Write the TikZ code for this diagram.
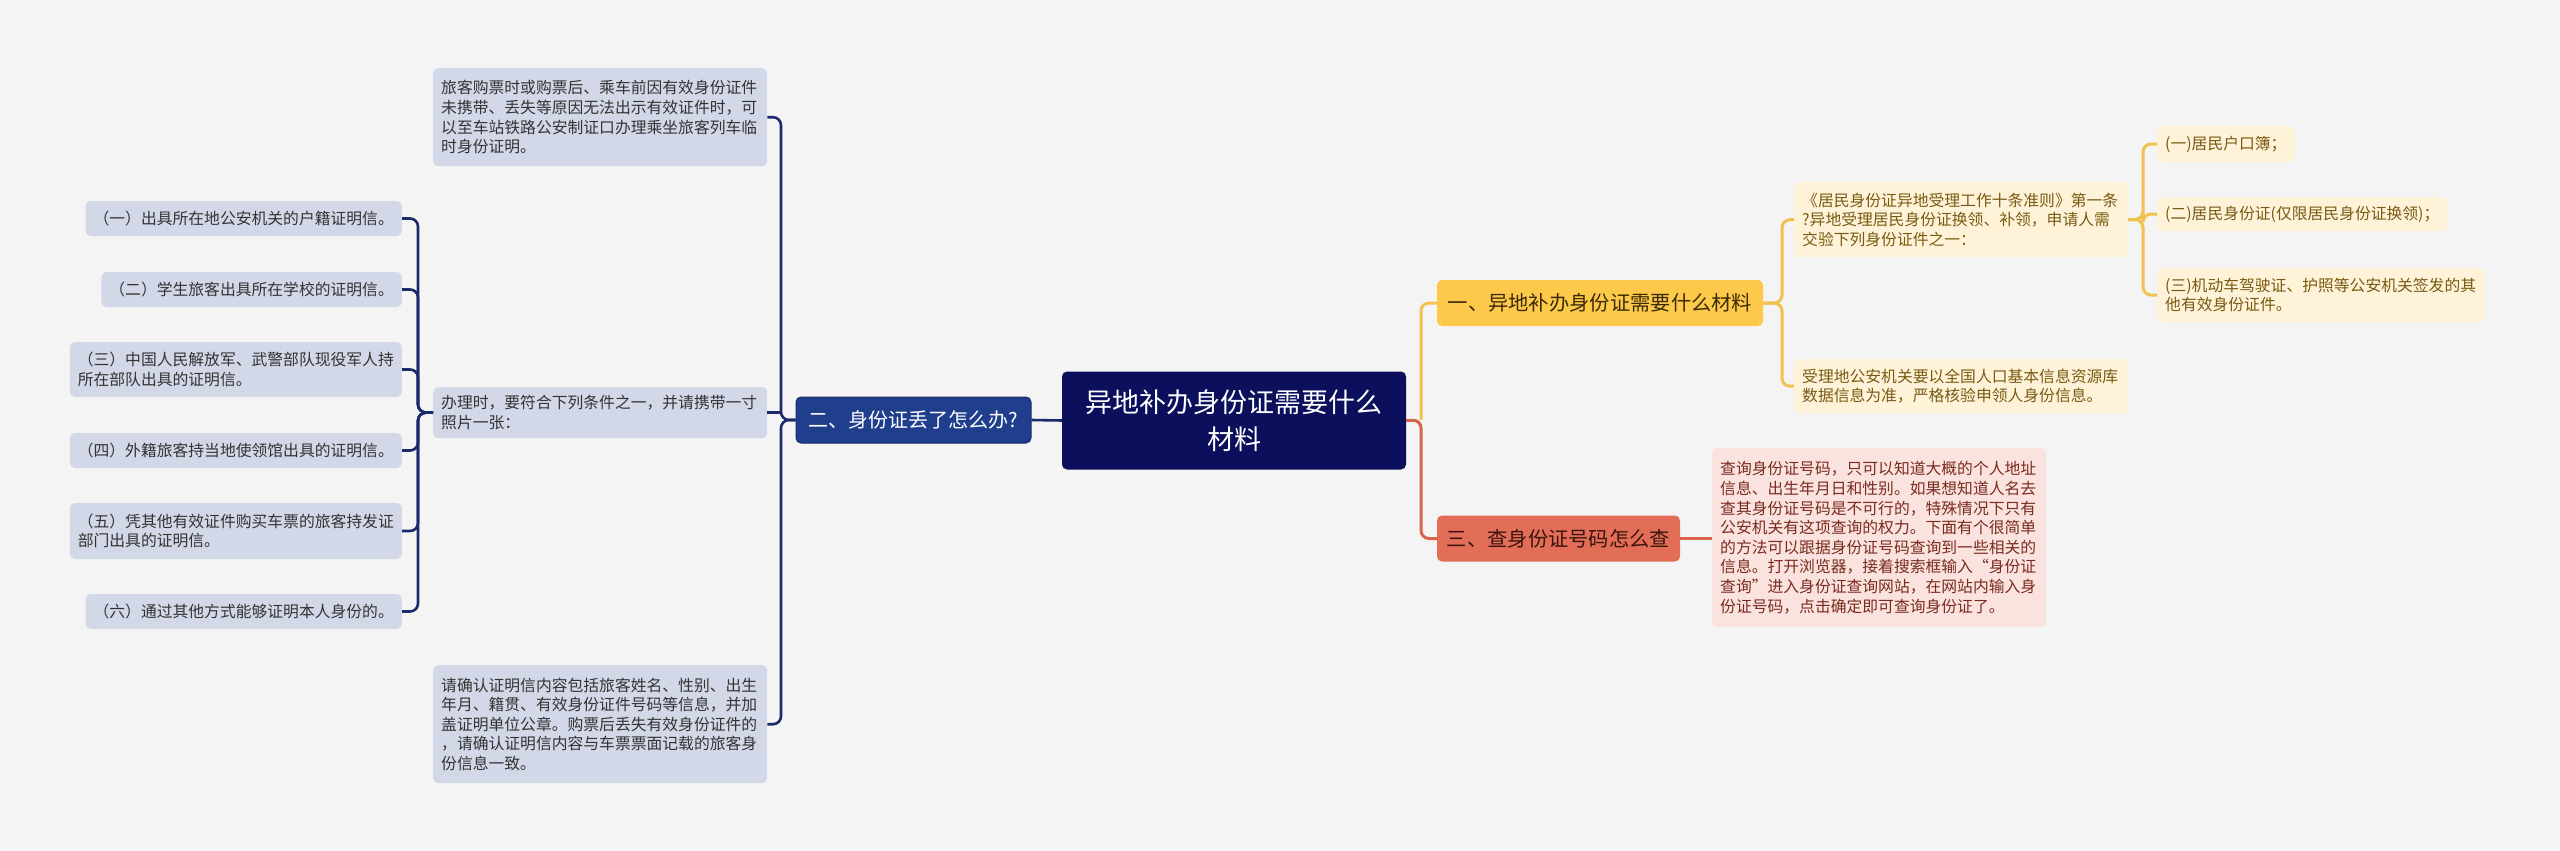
\documentclass[tikz,border=0pt]{standalone}
\usepackage{fontspec}
\setmainfont{Noto Sans CJK SC}
\definecolor{bg}{HTML}{F4F4F4}
\definecolor{navy}{HTML}{0B0F5C}
\definecolor{bluebox}{HTML}{1F3F8C}
\definecolor{blueline}{HTML}{1B2A6B}
\definecolor{greyleaf}{HTML}{D3D8E8}
\definecolor{greytext}{HTML}{333333}
\definecolor{yel}{HTML}{FCC94A}
\definecolor{yeltext}{HTML}{3B2A05}
\definecolor{yelline}{HTML}{F2C24E}
\definecolor{yelleaf}{HTML}{FEF3D9}
\definecolor{yelleaftext}{HTML}{7A5A12}
\definecolor{coral}{HTML}{E36E57}
\definecolor{coraltext}{HTML}{3A140C}
\definecolor{coralline}{HTML}{D9644C}
\definecolor{coralleaf}{HTML}{FAE3DF}
\definecolor{coralleaftext}{HTML}{7B2B1E}
\begin{document}
\begin{tikzpicture}[x=1pt,y=-1pt,
  leafbox/.style={rounded corners=5pt, inner xsep=8pt, inner ysep=0pt, align=left,
    font=\fontsize{15.8}{19.6}\selectfont},
  gleaf/.style={leafbox, fill=greyleaf, text=greytext},
  yleaf/.style={leafbox, fill=yelleaf, text=yelleaftext},
  rleaf/.style={leafbox, fill=coralleaf, text=coralleaftext},
  mainbox/.style={rounded corners=5pt, inner sep=0pt, align=center},
  bline/.style={draw=blueline, line width=2.6pt, rounded corners=8pt},
  yline/.style={draw=yelline, line width=3pt, rounded corners=8pt},
  rline/.style={draw=coralline, line width=3pt, rounded corners=8pt}]
\useasboundingbox[fill=bg] (0,0) rectangle (2560,851);

% centre
\node[mainbox, fill=navy, text=white, minimum width=344pt, minimum height=98pt,
  font=\fontsize{27}{37}\selectfont] (C) at (1234,420.5) {异地补办身份证需要什么\\材料};

% main branches
\node[mainbox, fill=bluebox, draw=blueline, line width=1pt, text=white, minimum width=235pt, minimum height=46pt,
  font=\fontsize{20}{24}\selectfont] (B2) at (913.5,420) {二、身份证丢了怎么办?};
\node[mainbox, fill=yel, text=yeltext, minimum width=326pt, minimum height=46pt,
  font=\fontsize{20.3}{24}\selectfont] (B1) at (1600,303) {一、异地补办身份证需要什么材料};
\node[mainbox, fill=coral, text=coraltext, minimum width=243pt, minimum height=46pt,
  font=\fontsize{20.3}{24}\selectfont] (B3) at (1558.5,538.5) {三、查身份证号码怎么查};

% left leaves
\node[gleaf, anchor=north west, text width=318pt, minimum height=98pt] (L1) at (433,68)
  {旅客购票时或购票后、乘车前因有效身份证件\\未携带、丢失等原因无法出示有效证件时，可\\以至车站铁路公安制证口办理乘坐旅客列车临\\时身份证明。};
\node[gleaf, anchor=north west, text width=318pt, minimum height=51pt] (L2) at (433,387)
  {办理时，要符合下列条件之一，并请携带一寸\\照片一张：};
\node[gleaf, anchor=north west, text width=318pt, minimum height=118pt] (L3) at (433,665)
  {请确认证明信内容包括旅客姓名、性别、出生\\年月、籍贯、有效身份证件号码等信息，并加\\盖证明单位公章。购票后丢失有效身份证件的\\，请确认证明信内容与车票票面记载的旅客身\\份信息一致。};

% sub leaves
\node[gleaf, anchor=east, minimum height=35pt] (S1) at (402,218.5) {（一）出具所在地公安机关的户籍证明信。};
\node[gleaf, anchor=east, minimum height=35pt] (S2) at (402,289.5) {（二）学生旅客出具所在学校的证明信。};
\node[gleaf, anchor=east, minimum height=55pt] (S3) at (402,369.5) {（三）中国人民解放军、武警部队现役军人持\\所在部队出具的证明信。};
\node[gleaf, anchor=east, minimum height=35pt] (S4) at (402,450.5) {（四）外籍旅客持当地使领馆出具的证明信。};
\node[gleaf, anchor=east, minimum height=56pt] (S5) at (402,531) {（五）凭其他有效证件购买车票的旅客持发证\\部门出具的证明信。};
\node[gleaf, anchor=east, minimum height=35pt] (S6) at (402,611.5) {（六）通过其他方式能够证明本人身份的。};

% yellow leaves
\node[yleaf, anchor=north west, text width=318pt, minimum height=75pt] (Y1) at (1794,182)
  {《居民身份证异地受理工作十条准则》第一条\\?异地受理居民身份证换领、补领，申请人需\\交验下列身份证件之一：};
\node[yleaf, anchor=north west, text width=318pt, minimum height=54pt] (Y2) at (1794,359)
  {受理地公安机关要以全国人口基本信息资源库\\数据信息为准，严格核验申领人身份信息。};
\node[yleaf, anchor=west, minimum height=36pt] (G1) at (2157,144) {(一)居民户口簿；};
\node[yleaf, anchor=west, minimum height=34pt] (G2) at (2157,214) {(二)居民身份证(仅限居民身份证换领)；};
\node[yleaf, anchor=west, minimum height=54pt] (G3) at (2157,295) {(三)机动车驾驶证、护照等公安机关签发的其\\他有效身份证件。};

% coral leaf
\node[rleaf, anchor=north west, text width=318pt, minimum height=179pt] (R1) at (1712,448)
  {查询身份证号码，只可以知道大概的个人地址\\信息、出生年月日和性别。如果想知道人名去\\查其身份证号码是不可行的，特殊情况下只有\\公安机关有这项查询的权力。下面有个很简单\\的方法可以跟据身份证号码查询到一些相关的\\信息。打开浏览器，接着搜索框输入“身份证\\查询”进入身份证查询网站，在网站内输入身\\份证号码，点击确定即可查询身份证了。};

% junction coordinates
\coordinate (tl) at (781,420);
\coordinate (ts) at (418,412.5);
\coordinate (tr) at (1421,420);
\coordinate (ty) at (1782,303);
\coordinate (tg) at (2143,219.5);

% left connectors
\draw[bline] (C.west) -- (B2.east);
\draw[bline] (B2.west) -- (tl) |- (L1.east);
\draw[bline] (B2.west) -- (tl) |- (L3.east);
\draw[bline] (L2.east) -- (L2.east -| tl);
\foreach \s in {S1,S2,S3,S4,S5,S6}
  \draw[bline] (L2.west) -- (ts) |- (\s.east);

% right connectors
\draw[yline] (tr) |- (B1.west);
\draw[rline] (C.east) -- (tr) |- (B3.west);
\draw[yline] (B1.east) -- (ty) |- (Y1.west);
\draw[yline] (B1.east) -- (ty) |- (Y2.west);
\foreach \g in {G1,G2,G3}
  \draw[yline] (Y1.east) -- (tg) |- (\g.west);
\draw[rline] (B3.east) -- (B3.east -| R1.west);
\end{tikzpicture}
\end{document}
